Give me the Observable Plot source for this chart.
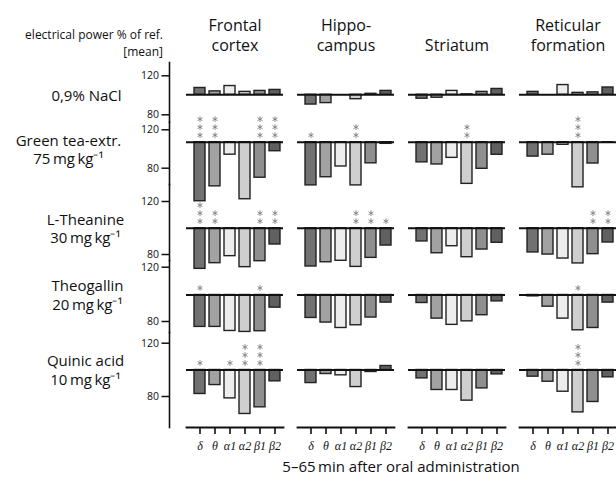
<!DOCTYPE html>
<html><head><meta charset="utf-8">
<script src="https://cdn.jsdelivr.net/npm/d3@7"></script>
<script src="https://cdn.jsdelivr.net/npm/@observablehq/plot@0.6"></script>
<style>
body{margin:0;background:#fff;}
#chart{position:relative;width:616px;height:480px;font-family:"Open Sans",sans-serif;color:#111;}
#chart svg{position:absolute;left:0;top:0;}
.note{position:absolute;white-space:nowrap;line-height:1;}
</style></head><body><div id="chart">
<div class="note" style="left:0;width:163px;text-align:right;top:29px;font-size:12px;">electrical power % of ref.</div>
<div class="note" style="left:0;width:163px;text-align:right;top:46px;font-size:12px;">[mean]</div>
<div class="note" style="left:186px;width:430px;text-align:center;top:459px;font-size:15px;">5–65&#8201;min after oral administration</div>
</div>
<script>
// ---- data ----
const regions = ["Frontal cortex", "Hippocampus", "Striatum", "Reticular formation"];
const regionHeaders = ["Frontal\ncortex", "Hippo-\ncampus", "Striatum", "Reticular\nformation"];
const bands = ["δ", "θ", "α1", "α2", "β1", "β2"];
const treatments = [
  "0,9% NaCl",
  "Green tea-extr.\n75\u2009mg\u2009kg⁻¹",
  "L-Theanine\n30\u2009mg\u2009kg⁻¹",
  "Theogallin\n20\u2009mg\u2009kg⁻¹",
  "Quinic acid\n10\u2009mg\u2009kg⁻¹"
];
const yTicks = [80, 120];
// values: % of reference, per region (rows) x band (cols)
const naclValues = [
  [107, 103.5, 109, 103, 104, 105],
  [90, 91.5, 100, 95.5, 101, 104],
  [96, 97, 104, 100.5, 103, 106],
  [103, 100, 110, 102, 102.5, 107.5]
];
const greenTeaValues = [
  [38.5, 54, 87, 40.6, 63, 90.6],
  [55, 63.5, 74.7, 55, 78, 98.3],
  [79, 76.8, 83.7, 56.6, 72.3, 86.9],
  [85, 87, 97.3, 53, 77.8, 99.5]
];
const theanineValues = [
  [69.3, 73.6, 78.9, 70.6, 75.1, 87.7],
  [71.1, 74.3, 75.4, 70.8, 77.6, 86.9],
  [90, 81.1, 86.4, 78.1, 83.9, 89],
  [81.7, 80.1, 77.1, 73.4, 80.4, 89.2]
];
const theogallinValues = [
  [76.5, 76.5, 73.5, 72.8, 73.3, 90.7],
  [83.1, 79.7, 75.7, 77.7, 83.4, 94.4],
  [94.1, 82.6, 78, 80.6, 85.1, 95.3],
  [99, 91.4, 82.6, 74, 75.7, 94.4]
];
const quinicValues = [
  [82, 88.7, 78.7, 67, 72, 91.5],
  [90.2, 97, 96, 87.2, 98.5, 103],
  [93.7, 85, 85, 77, 86.2, 96.7],
  [95, 91.2, 83.7, 68.2, 76, 94.5]
];
// number of significance asterisks
const naclStars = [[0,0,0,0,0,0],[0,0,0,0,0,0],[0,0,0,0,0,0],[0,0,0,0,0,0]];
const greenTeaStars = [[3,3,0,0,3,3],[1,0,0,2,0,0],[0,0,0,2,0,0],[0,0,0,3,0,0]];
const theanineStars = [[3,2,0,0,2,2],[0,0,0,2,2,1],[0,0,0,0,0,0],[0,0,0,0,2,2]];
const theogallinStars = [[1,0,0,0,1,0],[0,0,0,0,0,0],[0,0,0,0,0,0],[0,0,0,1,0,0]];
const quinicStars = [[1,0,1,3,3,0],[0,0,0,0,0,0],[0,0,0,0,0,0],[0,0,0,3,0,0]];

const allValues = [naclValues, greenTeaValues, theanineValues, theogallinValues, quinicValues];
const allStars = [naclStars, greenTeaStars, theanineStars, theogallinStars, quinicStars];

// ---- layout (pixels) ----
const W = 616, H = 480;
const rowLayout = [
  {p120: 75.3, p80: 114.3, base: 94.3, top: 62, bottom: 121.8, labelX: 86},
  {p120: 129.3, p80: 167.7, base: 141.7, top: 121.8, bottom: 184, labelX: 68},
  {p120: 201, p80: 254, base: 227.7, top: 184, bottom: 260, labelX: 85},
  {p120: 266.7, p80: 321, base: 294.5, top: 260, bottom: 332, labelX: 87},
  {p120: 342.7, p80: 396, base: 369.5, top: 332, bottom: 427, labelX: 85}
];
const bandColors = ["#717171", "#a2a2a2", "#ededed", "#cfcfcf", "#8f8f8f", "#606060"];
const font = '"Open Sans", sans-serif';

function domainFor(L, pRef, vRef) {
  const k = (L.p80 - L.p120) / 40;
  return [vRef - (L.bottom - pRef) / k, vRef + (pRef - L.top) / k];
}

const chart = document.getElementById("chart");

treatments.forEach((t, ti) => {
  const L = rowLayout[ti];
  const rows = [];
  regions.forEach((r, ri) => bands.forEach((b, bi) => rows.push({
    treatment: t, region: r, band: b, value: allValues[ti][ri][bi], stars: allStars[ti][ri][bi]
  })));
  const isFirst = ti === 0, isLast = ti === treatments.length - 1;

  const marks = [
    Plot.barY(rows, {fx: "region", x: "band", y1: 100, y2: "value", fill: "band", stroke: "#222", strokeWidth: 1.4}),
    Plot.ruleY([100], {stroke: "#111", strokeWidth: 2}),
    ...[0, 1, 2].map(i => Plot.dot(rows, {
      filter: d => d.stars > i, fx: "region", x: "band", y: 100, dy: -(7 + 8 * i),
      symbol: "asterisk", r: 2.7, stroke: "#808080", strokeWidth: 0.9
    }))
  ];
  if (isFirst) marks.push(Plot.axisFx({
    anchor: "top", tickSize: 0, tickPadding: 12, fontSize: 16, lineHeight: 1.25, label: null,
    tickFormat: r => regionHeaders[regions.indexOf(r)]
  }));
  if (isLast) marks.push(
    Plot.frame({anchor: "bottom", stroke: "#111", strokeWidth: 1.8}),
    Plot.axisX({anchor: "bottom", tickSize: 7, tickPadding: 7, fontSize: 12, fontFamily: '"Liberation Serif", serif', fontStyle: "italic", strokeWidth: 1.6, label: null})
  );

  const fxOpts = {domain: regions, paddingInner: 0.13, paddingOuter: 0, label: null};
  if (!isFirst) fxOpts.axis = null;
  const xOpts = {domain: bands, paddingInner: 0.3, paddingOuter: 0.23, align: 0.7, label: null};
  if (!isLast) xOpts.axis = null;

  const bars = Plot.plot({
    width: W, height: H,
    marginLeft: 186, marginRight: 0, marginTop: L.top, marginBottom: H - L.bottom,
    fx: fxOpts, x: xOpts,
    y: {domain: domainFor(L, L.base, 100), axis: null},
    color: {domain: bands, range: bandColors},
    style: {background: "transparent", overflow: "visible", fontFamily: font, color: "#111"},
    marks
  });
  chart.appendChild(bars);

  const axis = Plot.plot({
    width: 186, height: H,
    marginLeft: 169, marginRight: 0, marginTop: L.top, marginBottom: H - L.bottom,
    y: {domain: domainFor(L, L.p120, 120), axis: null},
    style: {background: "transparent", overflow: "visible", fontFamily: font, color: "#111"},
    marks: [
      Plot.frame({anchor: "left", stroke: "#111", strokeWidth: 1.6}),
      Plot.axisY({ticks: yTicks, tickSize: 7.5, tickPadding: 3, fontSize: 10.5, strokeWidth: 1.5, label: null}),
      Plot.text([t], {text: d => d, y: 100, frameAnchor: "left", dx: L.labelX - 169,
        textAnchor: "middle", lineAnchor: "middle", fontSize: 15, lineHeight: 1.25})
    ]
  });
  chart.appendChild(axis);
});
</script>
</body></html>
